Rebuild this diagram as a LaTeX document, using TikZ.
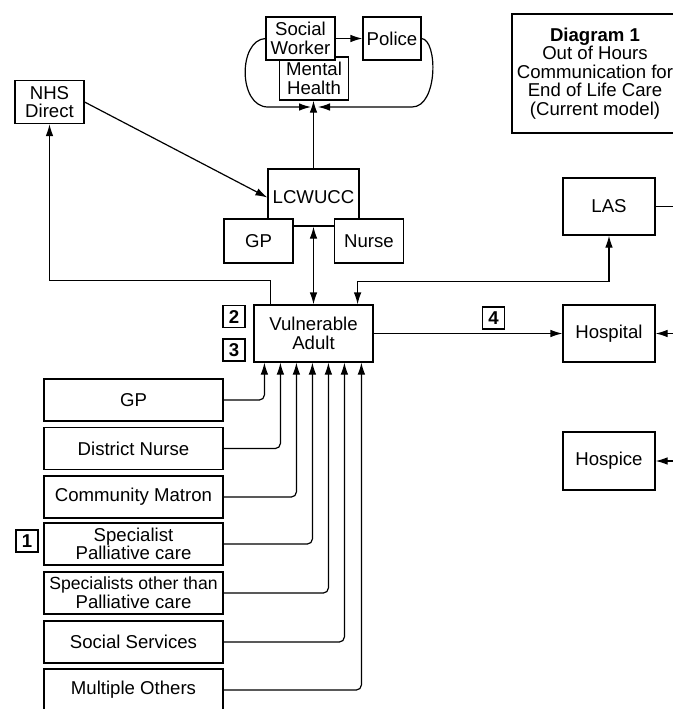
\documentclass[tikz,border=0pt]{standalone}
\usepackage{fontspec}
\setmainfont{Liberation Sans}
\usetikzlibrary{arrows.meta,calc}
\begin{document}
\begin{tikzpicture}[x = .5pt, y = -.5pt, line width = .6pt,
	font = \fontsize{9.3}{9.3}\selectfont,
	box/.style = {draw, fill = white, align = center, inner sep = 0pt},
	smallbox/.style = {box, minimum width = 34.5pt, minimum height = 21.5pt},
	midbox/.style = {box, minimum width = 46pt, minimum height = 28.5pt},
	listbox/.style = {box, minimum width = 89.5pt, minimum height = 21pt},
	numbox/.style = {box, minimum width = 11pt, minimum height = 11pt, font = \fontsize{9.3}{9.3}\selectfont\bfseries},
	arr/.style = {-{Latex[length = 6pt, width = 3.8pt]}},
	arrb/.style = {{Latex[length = 6pt, width = 3.8pt]}-{Latex[length = 6pt, width = 3.8pt]}}]
	\useasboundingbox (0,0) rectangle (673,709);
	\clip (0,0) rectangle (673,709);

	% top group
	\node[smallbox] (mh) at (314,78.5) {Mental\\Health};
	\node[smallbox] (sw) at (300.5,38.5) {Social\\Worker};
	\node[smallbox, minimum width = 29pt] (police) at (392,38.5) {Police};
	\coordinate (lpin) at (311,107);
	\coordinate (rpin) at (318,107);
	\draw[arr] (sw) -- (police);
	\draw[arr] (sw.west) .. controls (238,40) and (238,107) .. (268,107) -- (lpin);
	\draw[arr] (police.east) .. controls (438,40) and (438,107) .. (412,107) -- (rpin);

	% title
	\node[box, minimum width = 83pt, minimum height = 59.5pt] (title) at (595,73.5) {\textbf{Diagram 1}\\Out of Hours\\Communication for\\End of Life Care\\(Current model)};

	% out of hours service
	\node[smallbox] (nhs) at (49.5,102) {NHS\\Direct};
	\node[box, minimum width = 45.5pt, minimum height = 28.5pt] (lcw) at (313.5,197.5) {LCWUCC};
	\node[smallbox, minimum height = 22pt] (gp) at (258.5,241) {GP};
	\node[smallbox, minimum height = 22pt] (nurse) at (369,241) {Nurse};
	\draw[arr] (nhs.east) -- (lcw.west);
	\draw[arr] (lcw.north) -- (lcw.north |- mh.south);

	% patient
	\node[box, minimum width = 59.5pt, minimum height = 28.5pt] (va) at (313.5,333.5) {Vulnerable\\Adult};
	\node[numbox] (n2) at (234,316.5) {2};
	\node[numbox] (n3) at (234,350) {3};
	\draw[arrb] (lcw.south) -- (va.north);
	\draw[arr] ($(va.north west)+(17,0)$) -- ++(0,-24) -| (nhs.south);

	% right side
	\node[midbox] (las) at (609,206.5) {LAS};
	\node[midbox] (hosp) at (609,333.5) {Hospital};
	\node[midbox, minimum height = 29pt] (hospice) at (609,461) {Hospice};
	\node[numbox] (n4) at (493.5,318) {4};
	\coordinate (lasout) at (700,206.5);
	\coordinate (hospin) at (700,333.5);
	\coordinate (hospicein) at (700,461);
	\draw[arrb] ($(va.north east)+(-16,0)$) -- ++(0,-23) -| (las.south);
	\draw[arr] (va.east) -- (hosp.west);
	\draw (las.east) -- (lasout);
	\draw[arr] (hospin) -- (hosp.east);
	\draw[arr] (hospicein) -- (hospice.east);

	% daytime services
	\foreach \nm/\txt/\yy/\dx in {gpd/GP/400/11, dn/District Nurse/448.5/27, cm/Community Matron/497/43,
		sp/{Specialist\\Palliative care}/544/59, so/{\fontsize{8.8}{9.3}\selectfont Specialists other than\\Palliative care}/593/75,
		ss/Social Services/642/91, mo/Multiple Others/690/108}{
		\node[listbox] (\nm) at (133.5,\yy) {\txt};
		\draw[arr, rounded corners = 2.5pt] (\nm.east) -| ($(va.south west)+(\dx,0)$);
	}
	\node[numbox] (n1) at (27,541) {1};
\end{tikzpicture}
\end{document}
